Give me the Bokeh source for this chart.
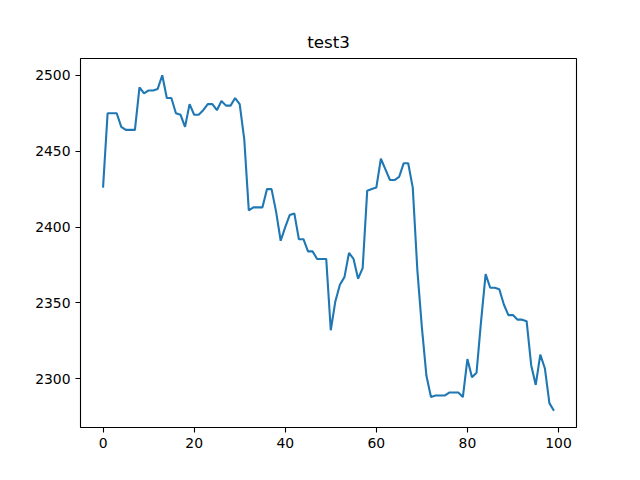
from bokeh.plotting import figure
from bokeh.models import Range1d, FixedTicker
from bokeh.embed import file_html
from bokeh.resources import INLINE

x_values = list(range(100))
y_values = [
    2426, 2475, 2475, 2475, 2466, 2464, 2464, 2464, 2492, 2488,
    2490, 2490, 2491, 2500, 2485, 2485, 2475, 2474, 2466, 2481,
    2474, 2474, 2477, 2481, 2481, 2477, 2483, 2480, 2480, 2485,
    2481, 2458, 2411, 2413, 2413, 2413, 2425, 2425, 2410, 2391,
    2400, 2408, 2409, 2392, 2392, 2384, 2384, 2379, 2379, 2379,
    2332, 2351, 2362, 2367, 2383, 2379, 2366, 2373, 2424, 2425,
    2426, 2445, 2438, 2431, 2431, 2433, 2442, 2442, 2426, 2372,
    2334, 2302, 2288, 2289, 2289, 2289, 2291, 2291, 2291, 2288,
    2313, 2301, 2304, 2338, 2369, 2360, 2360, 2359, 2349, 2342,
    2342, 2339, 2339, 2338, 2309, 2296, 2316, 2307, 2284, 2279,
]
x_ticks = [0, 20, 40, 60, 80, 100]
y_ticks = [2300, 2350, 2400, 2450, 2500]
title_text = "test3"

xmin, xmax = min(x_values), max(x_values)
ymin, ymax = min(y_values), max(y_values)
xpad = (xmax - xmin) * 0.05
ypad = (ymax - ymin) * 0.05

p = figure(
    title=title_text,
    frame_width=496, frame_height=369,
    min_border_left=80, min_border_right=48,
    min_border_top=58, min_border_bottom=37,
    output_backend="svg", toolbar_location=None,
    x_range=Range1d(xmin - xpad, xmax + xpad),
    y_range=Range1d(ymin - ypad, ymax + ypad),
)
p.line(x_values, y_values, line_color="#1f77b4", line_width=2.1)

p.title.align = "center"
p.title.text_font = "DejaVu Sans"
p.title.text_font_style = "normal"
p.title.text_font_size = "16.7px"
p.title.text_color = "black"
p.title.offset = 0
p.title.standoff = 13

p.grid.visible = False
p.outline_line_color = "black"
p.outline_line_width = 1.1
p.outline_line_alpha = 1.0
p.background_fill_color = "white"
p.border_fill_color = "white"

p.xaxis.ticker = FixedTicker(ticks=x_ticks)
p.yaxis.ticker = FixedTicker(ticks=y_ticks)
for ax in (p.xaxis[0], p.yaxis[0]):
    ax.axis_line_color = None
    ax.major_tick_in = 0
    ax.major_tick_out = 5
    ax.major_tick_line_color = "black"
    ax.major_tick_line_width = 1.1
    ax.minor_tick_line_color = None
    ax.major_label_text_font = "DejaVu Sans"
    ax.major_label_text_font_size = "13.9px"
    ax.major_label_text_color = "black"
    ax.major_label_standoff = 5

open("out.html", "w").write(file_html(p, INLINE))
